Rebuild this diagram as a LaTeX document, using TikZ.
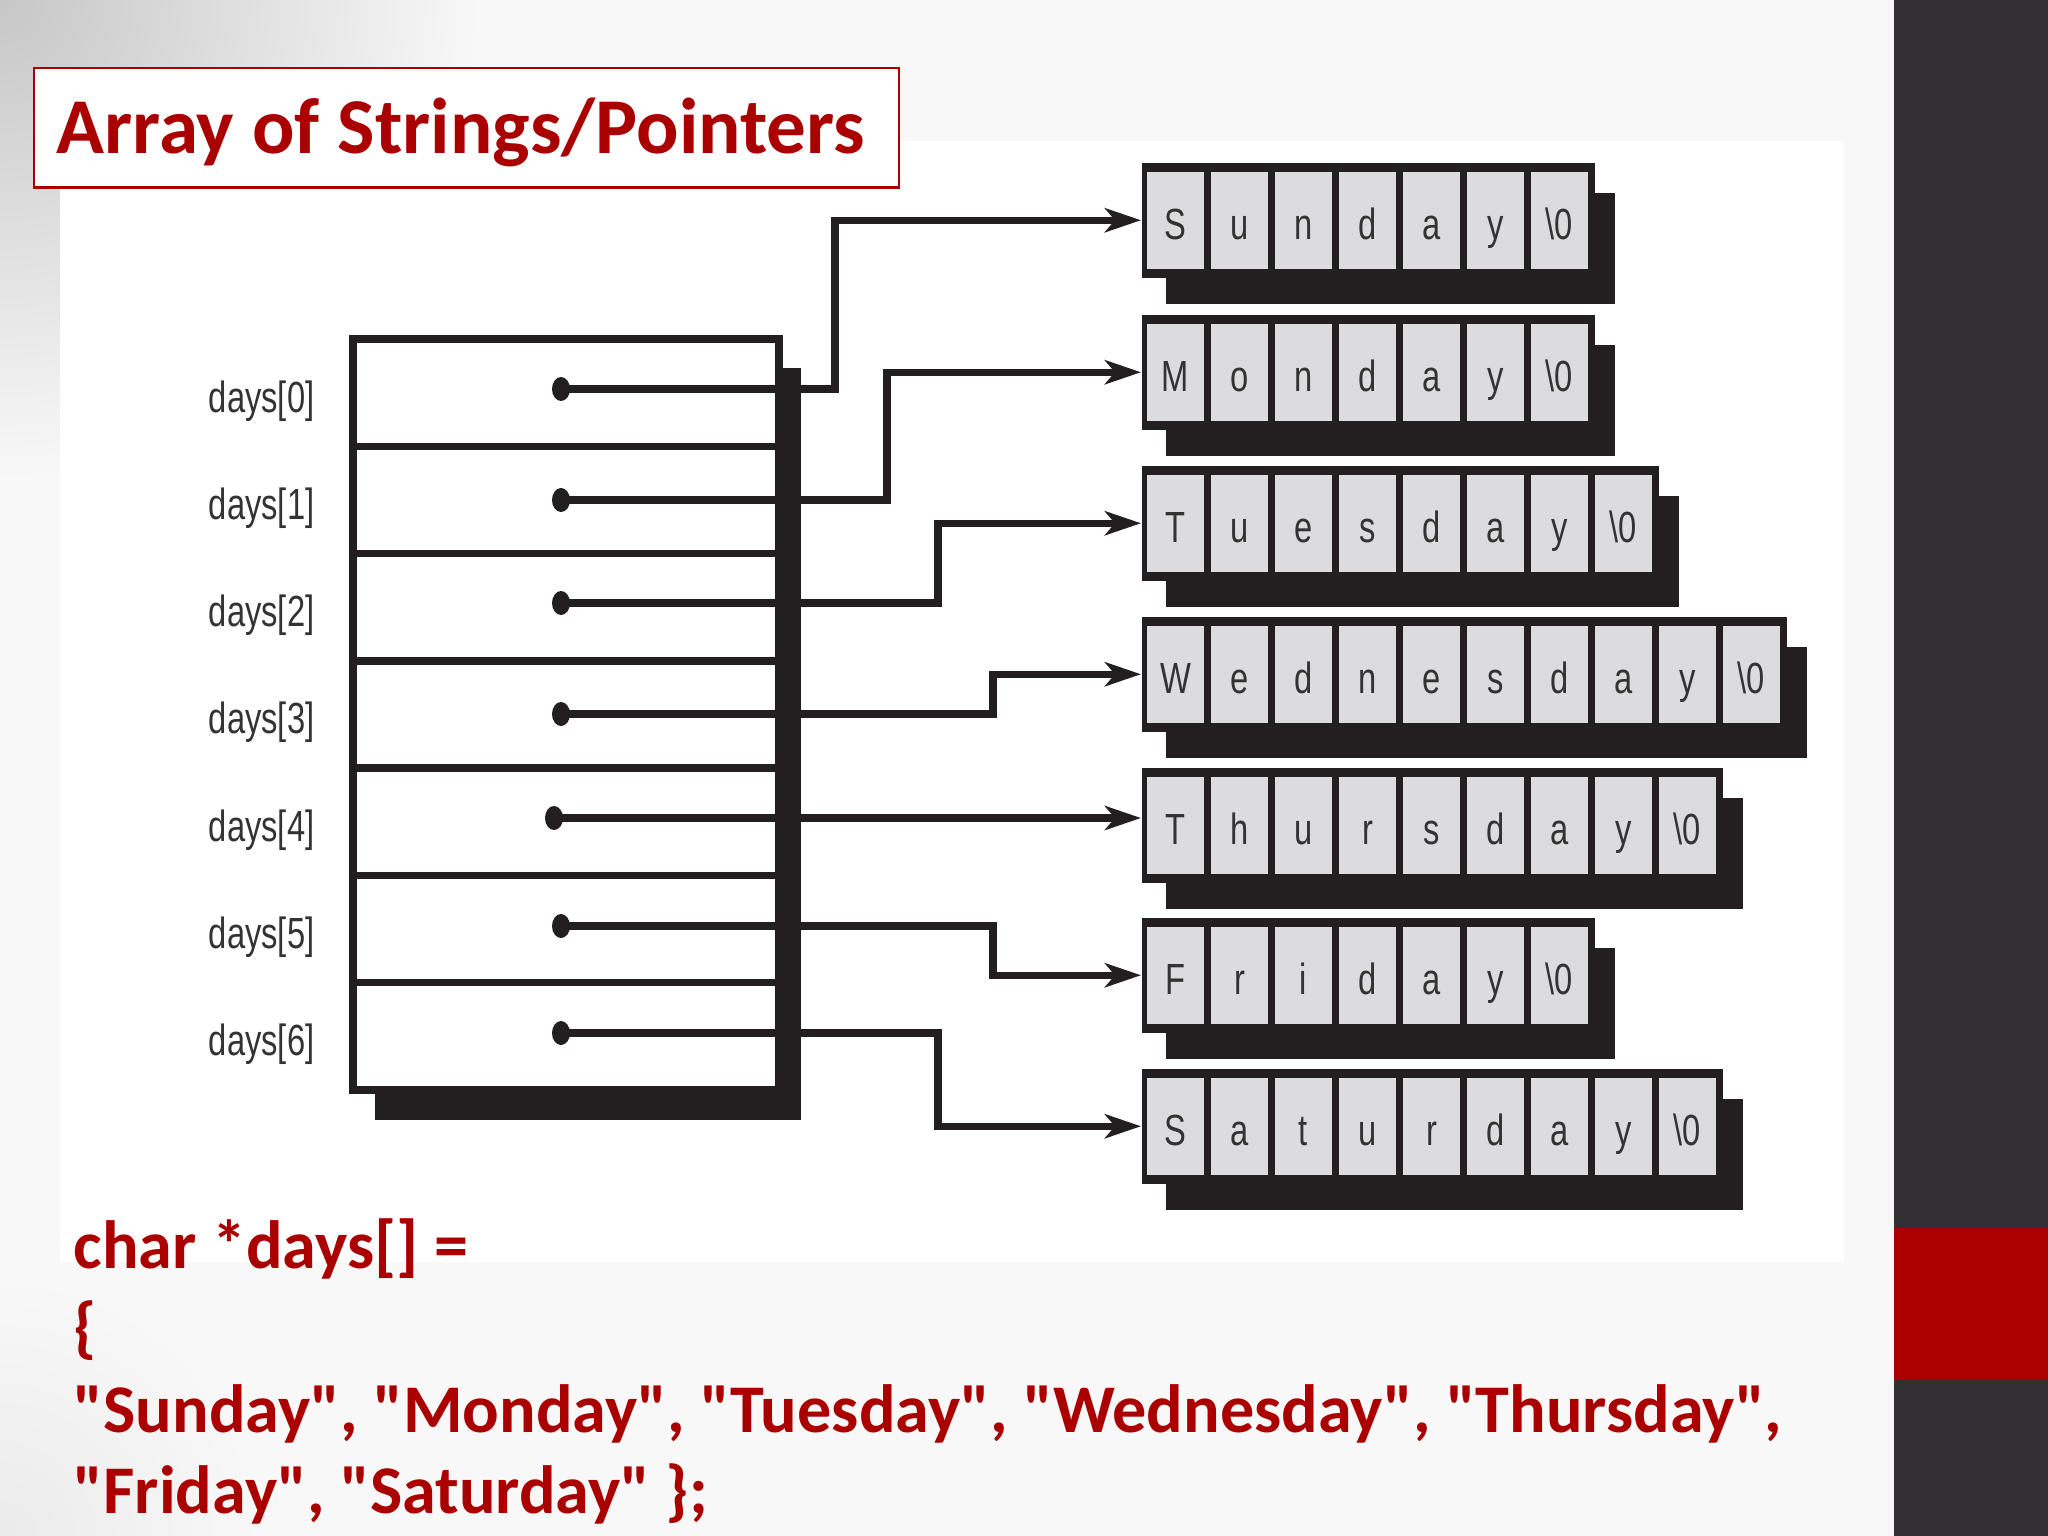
\documentclass[tikz,border=0pt]{standalone}
\usepackage{fontspec}
\setmainfont{Carlito}
\newfontfamily\codefont{Carlito}
\newfontfamily\narrowfont[FakeStretch=0.75]{Liberation Sans}
\usetikzlibrary{arrows.meta,shapes.geometric}
\definecolor{slidered}{HTML}{AA0000}
\definecolor{ink}{HTML}{231F20}
\definecolor{cellgray}{HTML}{DCDCDE}
\definecolor{panel}{HTML}{323032}
\definecolor{labelgray}{HTML}{333333}
\definecolor{slidebg}{HTML}{F8F8F8}
\tikzset{
  rowcell/.style={draw=ink, fill=white, line width=2.1pt, minimum width=4.26cm, minimum height=1.073cm, inner sep=0pt},
  lbl/.style={anchor=base east, inner sep=0pt, text=labelgray, font=\narrowfont\fontsize{12.4}{14}\selectfont},
  dotnode/.style={ellipse, fill=ink, minimum width=0.18cm, minimum height=0.24cm, inner sep=0pt},
  frame/.style={fill=ink, anchor=north west, minimum height=1.15cm, inner sep=0pt},
  cellbox/.style={fill=cellgray, minimum width=0.57cm, minimum height=0.97cm, inner sep=0pt, text height=11pt, text depth=0pt, text=labelgray, font=\narrowfont\fontsize{12.4}{14}\selectfont},
  ptr/.style={draw=ink, line width=2pt, -{Stealth[length=0.36cm, width=0.24cm, inset=0.1cm]}},
  codeline/.style={anchor=base west, inner sep=0pt, text=slidered, font=\codefont\bfseries\fontsize{19.4}{23}\selectfont}
}
\begin{document}
\begin{tikzpicture}[x=0.01cm, y=-0.01cm]
\useasboundingbox (0,0) rectangle (2048,1536);
% slide background
\fill[slidebg] (0,0) rectangle (1894,1536);
\begin{scope}
  \clip (0,0) rectangle (1894,1536);
  \shade[inner color=black!22, outer color=slidebg] (0,0) circle (480);
  \shade[inner color=black!8, outer color=slidebg] (0,1536) circle (260);
\end{scope}
\fill[white] (60,141) rectangle (1844,1262);
\fill[panel] (1894,0) rectangle (2048,1536);
\fill[slidered] (1894,1228) rectangle (2048,1380);
% title
\node[draw=slidered, fill=white, line width=0.7pt, minimum width=8.64cm, minimum height=1.19cm, anchor=north west, inner sep=0pt] (titlebox) at (33,67) {};
\node[anchor=base west, inner sep=0pt, text=slidered, font=\bfseries\fontsize{22.5}{27}\selectfont] (title) at (56,153) {Array of Strings/Pointers};
% pointer array
\fill[ink] (375,368) rectangle (801,1120);
\foreach \r in {0,...,6} {
  \node[rowcell] (r\r) at (566,{392.65+\r*107.3}) {};
  \node[lbl] (l\r) at (315,{412+\r*107.3}) {days[\r]};
}
\node[dotnode] (d0) at (561,389) {};
\node[dotnode] (d1) at (561,500) {};
\node[dotnode] (d2) at (561,603) {};
\node[dotnode] (d3) at (561,714) {};
\node[dotnode] (d4) at (554,818) {};
\node[dotnode] (d5) at (561,926) {};
\node[dotnode] (d6) at (561,1033) {};
% strings
\foreach \i/\t/\n/\w in {
  0/162/7/{S,u,n,d,a,y,\textbackslash0},
  1/314/7/{M,o,n,d,a,y,\textbackslash0},
  2/465/8/{T,u,e,s,d,a,y,\textbackslash0},
  3/616/10/{W,e,d,n,e,s,d,a,y,\textbackslash0},
  4/767/9/{T,h,u,r,s,d,a,y,\textbackslash0},
  5/917/7/{F,r,i,d,a,y,\textbackslash0},
  6/1068/9/{S,a,t,u,r,d,a,y,\textbackslash0}} {
  \pgfmathsetmacro\fw{(64*\n+5)*0.01}
  \pgfmathsetmacro\sr{1141+64*\n+5+21}
  \fill[ink] (1166,\t+31) rectangle (\sr,\t+142);
  \node[frame, minimum width=\fw cm] (s\i) at (1141,\t) {};
  \foreach \c [count=\k from 0] in \w {
    \node[cellbox] (c\i-\k) at ({1175.5+\k*64},{\t+58.5}) {\c};
  }
}
% bends
\coordinate (b0) at (835,0);
\coordinate (b1) at (887,0);
\coordinate (b2) at (938,0);
\coordinate (b3) at (993,0);
\coordinate (b5) at (993,0);
\coordinate (b6) at (938,0);
\draw[ptr] (d0.center) -- (d0.center -| b0) |- (s0.west);
\draw[ptr] (d1.center) -- (d1.center -| b1) |- (s1.west);
\draw[ptr] (d2.center) -- (d2.center -| b2) |- (s2.west);
\draw[ptr] (d3.center) -- (d3.center -| b3) |- (s3.west);
\draw[ptr] (d4.center) -- (d4.center -| s4.west);
\draw[ptr] (d5.center) -- (d5.center -| b5) |- (s5.west);
\draw[ptr] (d6.center) -- (d6.center -| b6) |- (s6.west);
% code
\node[codeline] (code1) at (73,1268) {char *days[] =};
\node[codeline] (code2) at (73,1350) {\{};
\node[codeline] (code3) at (73,1432) {"Sunday", "Monday", "Tuesday", "Wednesday", "Thursday",};
\node[codeline] (code4) at (73,1513) {"Friday", "Saturday" \};};
\end{tikzpicture}
\end{document}
